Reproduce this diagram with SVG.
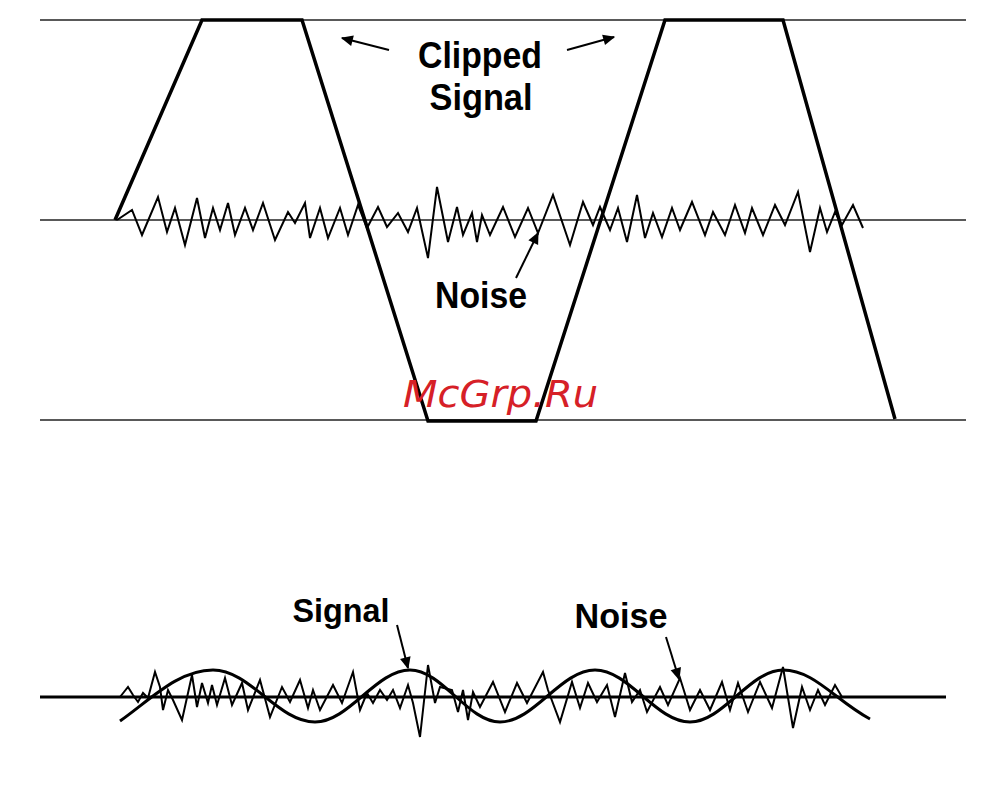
<svg xmlns="http://www.w3.org/2000/svg" width="990" height="787" viewBox="0 0 990 787">
<style>
.ref{stroke:#222;stroke-width:1.6;fill:none}
.axis{stroke:#000;stroke-width:3;fill:none}
.sig{stroke:#000;stroke-width:3.5;fill:none;stroke-linejoin:miter}
.noise{stroke:#000;stroke-width:2;fill:none;stroke-linejoin:miter}
.arr{stroke:#000;stroke-width:2;fill:none}
.lbl{font-family:"Liberation Sans",Arial,sans-serif;font-weight:bold;font-size:34px;fill:#000;text-anchor:middle}
.wm{font-family:"DejaVu Sans",sans-serif;font-style:italic;font-size:38px;fill:#d62027}
</style>
<defs>
<marker id="ah" viewBox="0 0 10 10" refX="9" refY="5" markerWidth="7" markerHeight="7" orient="auto" markerUnits="userSpaceOnUse">
<path d="M0,1 L10,5 L0,9 z" fill="#000"/>
</marker>
<marker id="ahb" viewBox="0 0 10 10" refX="9" refY="5" markerWidth="14" markerHeight="12" orient="auto" markerUnits="userSpaceOnUse">
<path d="M0,0.5 L10,5 L0,9.5 z" fill="#000"/>
</marker>
</defs>
<rect width="990" height="787" fill="#fff"/>
<g id="reference-lines">
<line class="ref" x1="40" y1="20" x2="966" y2="20"/>
<line class="ref" x1="40" y1="220" x2="966" y2="220"/>
<line class="ref" x1="40" y1="420" x2="966" y2="420"/>
</g>
<g id="top-noise">
<polyline class="noise" points="117,220 132,210 142,235 158,197 167,232 175,208 185,245 197,198 205,238 213,208 220,230 228,203 235,235 245,208 253,230 263,203 275,240 288,212 295,223 305,203 310,238 320,208 328,238 340,208 348,235 358,205 367,228 378,207 387,227 398,213 408,232 417,208 428,258 437,187 448,242 457,207 463,235 472,213 477,242 482,215 490,235 503,207 515,237 528,208 538,233 553,195 570,245 583,202 593,225 600,207 610,230 618,208 627,242 637,195 645,238 653,213 662,237 672,208 680,230 692,202 705,235 713,212 725,235 735,205 745,233 752,208 763,235 775,205 785,225 798,192 810,252 820,208 827,232 835,212 842,225 853,205 863,228"/>
</g>
<g id="clipped-signal">
<polyline class="sig" points="115,220 202,20 302,20 428,421 536,421 665,20 783,20 895,419"/>
</g>
<g id="bottom-axis">
<line class="axis" x1="40" y1="697" x2="946" y2="697"/>
</g>
<g id="bottom-noise">
<polyline class="noise" points="120,697 128,687 133,695 138,702 143,693 148,698 155,672 160,687 163,710 168,690 173,700 182,720 192,675 197,707 202,683 208,703 212,685 217,705 225,678 232,705 242,683 248,710 260,680 270,717 282,687 290,702 300,680 308,708 313,690 320,710 333,685 342,703 353,672 360,710 367,693 373,703 380,690 387,700 393,690 400,708 408,685 413,703 420,737 428,665 435,703 440,687 452,690 458,712 463,690 468,720 473,692 480,707 493,682 505,712 517,683 527,703 543,672 548,690 560,722 572,682 580,708 588,683 597,702 607,685 615,717 625,673 632,702 640,690 647,712 660,687 668,705 680,678 690,710 700,690 710,710 722,682 730,710 738,683 748,712 760,682 772,708 783,667 793,728 802,687 810,710 818,690 825,705 835,685 842,697"/>
</g>
<g id="bottom-signal">
<path class="sig" style="stroke-width:3" d="M120,721 C150,700 178,670 213,670 C250,670 278,722 315,722 C349,722 376,670 410,670 C442,670 468,722 500,722 C534,722 561,670 595,670 C629,670 656,722 690,722 C723,722 750,670 783,670 C814,670 835,700 870,719"/>
</g>
<g id="connectors">
<line class="arr" x1="389" y1="50" x2="342" y2="38" marker-end="url(#ahb)"/>
<line class="arr" x1="567" y1="50" x2="614" y2="37" marker-end="url(#ahb)"/>
<line class="arr" x1="516" y1="278" x2="538" y2="233" marker-end="url(#ahb)"/>
<line class="arr" x1="397" y1="625" x2="408" y2="668" marker-end="url(#ahb)"/>
<line class="arr" x1="666" y1="637" x2="679" y2="679" marker-end="url(#ahb)"/>
</g>
<g id="labels">
<text class="lbl" x="480" y="68" textLength="124" lengthAdjust="spacingAndGlyphs" style="font-size:37px">Clipped</text>
<text class="lbl" x="481" y="110" textLength="103" lengthAdjust="spacingAndGlyphs" style="font-size:37px">Signal</text>
<text class="lbl" x="481" y="308" textLength="92" lengthAdjust="spacingAndGlyphs" style="font-size:36px">Noise</text>
<text class="lbl" x="341" y="622" textLength="97" lengthAdjust="spacingAndGlyphs" style="font-size:33px">Signal</text>
<text class="lbl" x="621" y="628" textLength="93" lengthAdjust="spacingAndGlyphs" style="font-size:35px">Noise</text>
</g>
<g id="watermark">
<text class="wm" x="403" y="407" textLength="195" lengthAdjust="spacingAndGlyphs">McGrp.Ru</text>
</g>
</svg>
